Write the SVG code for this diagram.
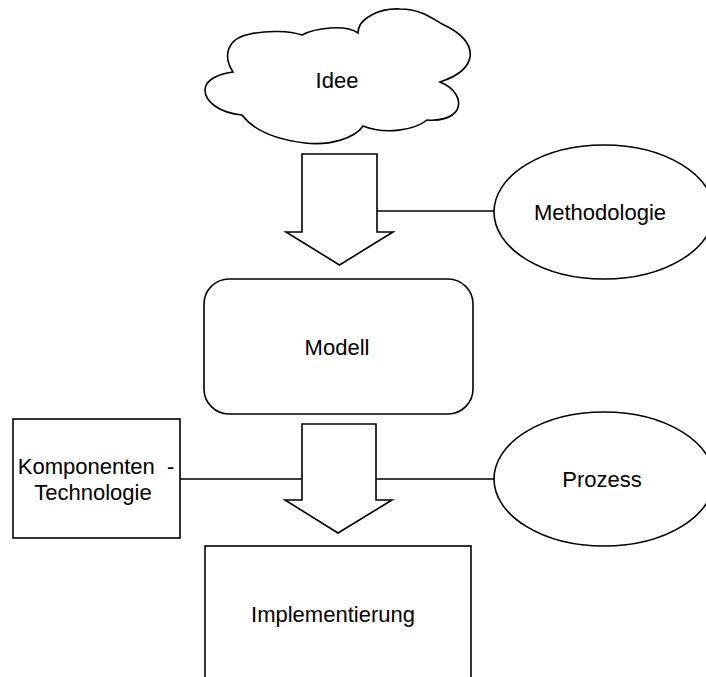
<svg xmlns="http://www.w3.org/2000/svg" width="706" height="677" viewBox="0 0 706 677">
  <style>
    .shape { fill: #ffffff; stroke: #000000; stroke-width: 1.6; stroke-linejoin: miter; }
    .link { fill: none; stroke: #000000; stroke-width: 1.6; }
    .label { font-family: "Liberation Sans", Arial, sans-serif; font-size: 22px; fill: #000000; text-anchor: middle; }
  </style>
  <rect width="706" height="677" fill="#ffffff"/>

  <!-- connectors: block arrows and plain lines -->
  <g id="connectors">
    <polygon class="shape" points="302,154 377,154 377,232 393,232 339.5,265 286,232 302,232"/>
    <polygon class="shape" points="302,424 376,424 376,500 392,500 338,533 285,500 302,500"/>
    <line class="link" x1="377" y1="211" x2="495" y2="211"/>
    <line class="link" x1="180" y1="479" x2="302" y2="479"/>
    <line class="link" x1="376" y1="479" x2="494" y2="479"/>
  </g>

  <g id="idee">
    <path class="shape" d="M233,72 C222,55 228,38 250,34 C268,30 290,31 302,35 C315,28 345,24 358,33 C358,18 380,8 400,9 C420,9 432,18 442,24 C462,33 472,45 470,57 C468,70 455,77 440,82 C455,88 462,100 457,110 C452,118 440,121 427,120 C415,130 385,135 363,126 C355,138 330,146 305,143 C280,140 255,132 242,115 C220,113 205,102 205,90 C205,80 218,74 233,72 Z"/>
    <text class="label" x="337" y="88">Idee</text>
  </g>

  <g id="methodologie">
    <ellipse class="shape" cx="604" cy="212" rx="110" ry="67"/>
    <text class="label" x="600" y="220">Methodologie</text>
  </g>

  <g id="modell">
    <rect class="shape" x="204" y="279" width="269" height="135" rx="25" ry="25"/>
    <text class="label" x="337" y="355">Modell</text>
  </g>

  <g id="komponenten">
    <rect class="shape" x="13" y="419" width="167" height="119"/>
    <text class="label" x="96" y="474" xml:space="preserve">Komponenten  -</text>
    <text class="label" x="93" y="500">Technologie</text>
  </g>

  <g id="prozess">
    <ellipse class="shape" cx="604" cy="479" rx="110" ry="67"/>
    <text class="label" x="602" y="487">Prozess</text>
  </g>

  <g id="implementierung">
    <rect class="shape" x="205" y="546" width="266" height="160"/>
    <text class="label" x="333" y="622">Implementierung</text>
  </g>
</svg>
